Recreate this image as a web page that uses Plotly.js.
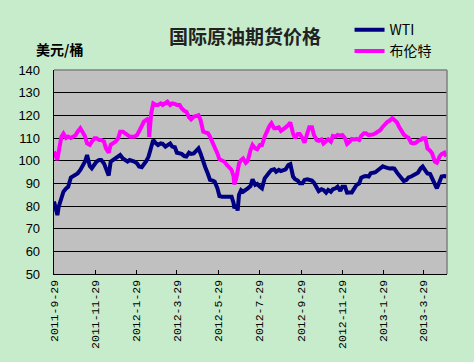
<!DOCTYPE html>
<html>
<head>
<meta charset="utf-8">
<script src="https://cdn.plot.ly/plotly-3.0.1.min.js"></script>
<style>html,body{margin:0;padding:0;background:#C7ECCC;}#chart{width:474px;height:362px;}</style>
</head>
<body>
<div id="chart"></div>
<script>
const dates = [
"2011-09-29","2011-10-04","2011-10-06","2011-10-10","2011-10-13","2011-10-17","2011-10-20","2011-10-24","2011-10-27","2011-10-31",
"2011-11-03","2011-11-07","2011-11-10","2011-11-14","2011-11-17","2011-11-21","2011-11-24","2011-11-28","2011-12-01","2011-12-05",
"2011-12-08","2011-12-12","2011-12-15","2011-12-19","2011-12-22","2011-12-26","2011-12-29","2012-01-02","2012-01-05","2012-01-09",
"2012-01-12","2012-01-16","2012-01-19","2012-01-23","2012-01-26","2012-01-30","2012-02-02","2012-02-06","2012-02-09","2012-02-13",
"2012-02-16","2012-02-17","2012-02-20","2012-02-23","2012-02-27","2012-03-01","2012-03-05","2012-03-08","2012-03-12","2012-03-15",
"2012-03-19","2012-03-22","2012-03-26","2012-03-29","2012-04-02","2012-04-05","2012-04-09","2012-04-12","2012-04-16","2012-04-19",
"2012-04-23","2012-04-26","2012-04-30","2012-05-03","2012-05-07","2012-05-10","2012-05-14","2012-05-17","2012-05-21","2012-05-24",
"2012-05-28","2012-05-31","2012-06-04","2012-06-07","2012-06-11","2012-06-14","2012-06-18","2012-06-21","2012-06-22","2012-06-25",
"2012-06-27","2012-06-29","2012-07-02","2012-07-05","2012-07-09","2012-07-12","2012-07-16","2012-07-19","2012-07-23","2012-07-26",
"2012-07-30","2012-08-02","2012-08-06","2012-08-09","2012-08-13","2012-08-16","2012-08-20","2012-08-23","2012-08-27","2012-08-30",
"2012-09-03","2012-09-06","2012-09-10","2012-09-13","2012-09-17","2012-09-20","2012-09-24","2012-09-27","2012-10-01","2012-10-04",
"2012-10-08","2012-10-11","2012-10-15","2012-10-18","2012-10-22","2012-10-25","2012-10-29","2012-11-01","2012-11-05","2012-11-08",
"2012-11-12","2012-11-15","2012-11-19","2012-11-22","2012-11-26","2012-11-29","2012-12-03","2012-12-06","2012-12-10","2012-12-13",
"2012-12-17","2012-12-20","2012-12-24","2012-12-27","2012-12-31","2013-01-03","2013-01-07","2013-01-10","2013-01-14","2013-01-17",
"2013-01-21","2013-01-24","2013-01-28","2013-01-31","2013-02-04","2013-02-07","2013-02-11","2013-02-14","2013-02-18","2013-02-21",
"2013-02-25","2013-02-28","2013-03-04","2013-03-07","2013-03-11","2013-03-14","2013-03-18","2013-03-21","2013-03-25","2013-03-28",
"2013-04-01","2013-04-04","2013-04-08","2013-04-11","2013-04-15","2013-04-18","2013-04-22","2013-04-25","2013-04-29","2013-05-02"
];
const wti = [
82,76,79.7,84.4,86.3,87.8,88.5,92.6,93.2,93.7,
94.4,95.9,97.4,99.6,102.5,97.6,96.6,98.1,99.6,100.3,
100.3,98.8,95.9,93.5,99.6,100.3,101,101.8,102.5,101,
100.3,99.6,100.3,100,99.6,98.8,97.4,97.1,98.1,100,
101.8,103,105.4,109.1,107.6,106.9,107.6,107.4,106.2,106.9,
107.6,106.2,105.9,103.5,103.2,103,102,101.8,103.5,103,
103.2,104.4,105.4,103.2,98.8,97.1,94.1,91.5,91.2,90.7,
87.8,84.4,84.1,84.1,83.7,83.8,84.1,81.2,79,80.4,
78,85,87,86.3,87,87.8,88.8,91.8,89.3,89.7,
88.5,87.8,92.2,93.7,94.9,95.9,96.2,95.1,95.9,95.4,
95.9,96.2,98.1,98.5,93,91.8,91.2,90,90,91.5,
91.8,91.5,91.2,90.3,88.5,86.6,87.4,87.1,85.9,87.1,
86.3,87.4,87.8,88.5,86.7,88.5,88.5,85.9,86,86,
87.9,89.3,90,92.5,93,93.2,93,94.4,94.7,94.9,
95.9,96.5,97.5,97.1,96.6,96.5,96.6,96.5,94.7,93.7,
92.5,91,91.5,92.6,93,93.4,94.4,94.7,96.6,97.4,
95.6,94.4,94.1,92.2,89.3,87.8,90.7,93,93.2,93
];
const brent = [
104,100.3,104,110.6,112,110,110.6,110,110.5,111.3,
112.8,114.3,112.8,110.6,107.6,107,108.4,109.9,109.9,109.1,
109.1,108.4,105.4,103.5,107,107.6,108.4,109.9,112.8,112.8,
112.3,111.3,110.6,110.6,110.6,111.3,112.8,115.3,117.2,118.2,
118.7,110.5,121,125.3,124.6,124.6,125.3,124.6,125.3,126,
124.6,125.3,125,124.6,124.6,123.1,122,121.6,119.1,118.2,
119.4,119.7,120.1,118,112.8,112.5,112.1,110.6,107.9,106.9,
103.2,100.6,100,99.6,98.1,97.1,95.9,93,89.5,92.2,
97,98.8,100.3,101,99.1,100,104.7,106.9,105.4,105,
106.9,106.9,110.6,113.1,115.3,116.5,114.3,114.3,114.7,113.2,
113.8,114.7,115.7,116.8,112,109.9,111.8,111.8,109.9,107.9,
112,114.7,114.7,111.3,109.1,108.8,109.4,107.6,108.7,109.4,
108.4,110.9,110.6,111.3,111,111.3,109.9,107.4,108.4,109.6,
109.4,109.6,109.1,110.9,112.1,112.1,111.3,111.3,111.6,112.1,
112.8,113.4,115,116.2,117.2,117.6,118.7,117.9,116.8,115,
112.4,111.5,110.6,110.1,107.9,107.6,107.9,108.7,109.1,109.9,
109.9,105.4,104.4,103.2,99.6,99.1,101.8,102.9,103.5,101.8
];
const tickDates = ["2011-09-29","2011-11-29","2012-01-29","2012-03-29","2012-05-29","2012-07-29","2012-09-29","2012-11-29","2013-01-29","2013-03-29"];
const tickLabels = ["2011-9-29","2011-11-29","2012-1-29","2012-3-29","2012-5-29","2012-7-29","2012-9-29","2012-11-29","2013-1-29","2013-3-29"];
const seriesNames = ["WTI","布伦特"];
const yTicks = [50,60,70,80,90,100,110,120,130,140];

const traces = [
  {x: dates, y: wti, name: seriesNames[0], type: "scatter", mode: "lines",
   line: {color: "#000080", width: 4}},
  {x: dates, y: brent, name: seriesNames[1], type: "scatter", mode: "lines",
   line: {color: "#FF00FF", width: 4}}
];

const layout = {
  width: 474, height: 362,
  paper_bgcolor: "#C7ECCC", plot_bgcolor: "#C0C0C0",
  margin: {l: 54, r: 26.5, t: 70, b: 88},
  title: {text: "国际原油期货价格", x: 0.517, xanchor: "center", y: 0.898, yanchor: "middle",
          font: {family: "Noto Sans CJK SC", size: 19, color: "#222", weight: "bold"}},
  xaxis: {type: "date", range: ["2011-09-29", "2013-05-03"],
          tickmode: "array", tickvals: tickDates, ticktext: tickLabels, tickangle: -90,
          ticks: "inside", ticklen: 4, tickcolor: "#000",
          showline: true, linecolor: "#000", linewidth: 1.3,
          showgrid: false, zeroline: false,
          tickfont: {family: "Liberation Mono", size: 11.5, color: "#000"}},
  yaxis: {range: [50, 140], tickmode: "array", tickvals: yTicks,
          showline: true, linecolor: "#000", linewidth: 1.3,
          showgrid: true, gridcolor: "#000", gridwidth: 1, zeroline: false,
          ticks: "", ticklabelstandoff: 10,
          tickfont: {family: "Liberation Sans", size: 13, color: "#000"}},
  showlegend: true,
  legend: {x: 0.752, xanchor: "left", y: 1.274, yanchor: "top", bgcolor: "rgba(0,0,0,0)",
           font: {family: "Noto Sans CJK SC", size: 14, color: "#000"}, tracegroupgap: 0},
  annotations: [
    {text: "美元/桶", xref: "paper", yref: "paper", x: 0.015, y: 1.103, xanchor: "center", yanchor: "middle",
     showarrow: false, font: {family: "Noto Sans CJK SC", size: 14, color: "#000", weight: "bold"}}
  ],
  shapes: [
    {type: "line", xref: "paper", yref: "paper", x0: 0, x1: 1, y0: 1, y1: 1, line: {color: "#808080", width: 1.5}, layer: "above"},
    {type: "line", xref: "paper", yref: "paper", x0: 1, x1: 1, y0: 0, y1: 1, line: {color: "#808080", width: 1.5}, layer: "above"}
  ]
};
Plotly.newPlot("chart", traces, layout, {displayModeBar: false, staticPlot: true});
</script>
</body>
</html>
